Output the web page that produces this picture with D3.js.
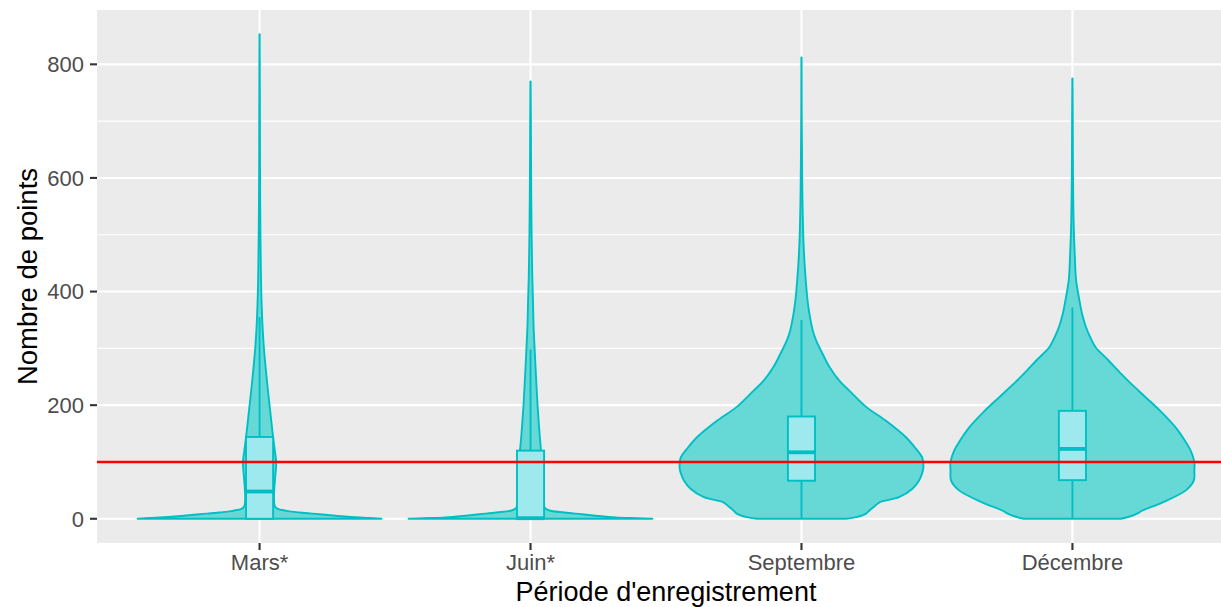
<!DOCTYPE html>
<html>
<head>
<meta charset="utf-8">
<script src="https://cdn.jsdelivr.net/npm/d3@7"></script>
<style>
  html, body { margin: 0; padding: 0; background: #ffffff; }
  svg { display: block; }
  text { font-family: "Liberation Sans", Arial, Helvetica, sans-serif; }
</style>
</head>
<body>
<script>
// ---------------- DATA ----------------
const categories = ["Mars*", "Juin*", "Septembre", "Décembre"];
const yTicks = [0, 200, 400, 600, 800];
const yMinorTicks = [100, 300, 500, 700];
const referenceValue = 100;

// violin densities: [value, relative density (1 = widest)]
const densMars = [[0,1],[1.5,0.9],[4,0.7],[8,0.49],[11,0.33],[14,0.22],[18,0.145],[22,0.125],[35,0.118],[50,0.12],[73,0.128],[90,0.135],[102,0.136],[120,0.125],[149,0.108],[190,0.087],[237,0.063],[270,0.048],[302,0.035],[340,0.024],[384,0.016],[430,0.011],[500,0.007],[600,0.004],[700,0.003],[780,0.002],[853,0.001]];
const densJuin = [[0,1],[1,0.88],[2.3,0.7],[5,0.55],[8,0.42],[11,0.28],[15,0.15],[20,0.115],[35,0.105],[60,0.1],[90,0.095],[120,0.086],[150,0.074],[202,0.057],[250,0.045],[302,0.033],[340,0.025],[384,0.02],[430,0.014],[500,0.009],[600,0.005],[700,0.003],[770,0.001]];
const densSept = [[0,0.365],[3,0.45],[6,0.5],[9,0.53],[15,0.56],[22,0.6],[29,0.64],[38,0.8],[53,0.91],[67,0.963],[80,0.99],[91,1.0],[108,0.99],[123,0.94],[144,0.855],[173,0.69],[197,0.53],[226,0.39],[243,0.31],[267,0.23],[290,0.174],[314,0.12],[332,0.092],[361,0.065],[384,0.05],[420,0.035],[450,0.025],[490,0.016],[540,0.01],[578,0.007],[650,0.004],[720,0.002],[812,0.001]];
const densDec = [[0,0.4],[4,0.47],[9,0.53],[14.6,0.575],[29,0.74],[50,0.93],[67,0.995],[85,1.0],[100,1.0],[120,0.97],[140,0.915],[161,0.846],[190,0.72],[214,0.6],[240,0.47],[255,0.4],[280,0.29],[302,0.19],[320,0.145],[338,0.11],[360,0.08],[385,0.057],[420,0.03],[460,0.02],[520,0.01],[600,0.005],[700,0.003],[775,0.001]];
const densities = [densMars, densJuin, densSept, densDec];

// boxplot statistics
const boxLower = [0, 0, 0, 0];      // lower whisker
const boxQ1 = [0, 0, 67, 68];
const boxMedian = [48, 1, 117, 123];
const boxQ3 = [144, 120, 180, 190];
const boxUpper = [355, 298, 350, 372]; // upper whisker
const dataMax = [853, 770, 812, 775];

// ---------------- LAYOUT ----------------
const W = 1221, H = 607;
const panel = { left: 97, right: 1235, top: 10, bottom: 543 };

const svg = d3.select("body").append("svg").attr("width", W).attr("height", H);

const maxVal = d3.max(dataMax), minVal = 0;
const pad = (maxVal - minVal) * 0.05;
const y = d3.scaleLinear().domain([minVal - pad, maxVal + pad]).range([panel.bottom, panel.top]);
const x = d3.scalePoint().domain(categories).range([panel.left, panel.right]).padding(0.6);
const step = x.step();
const violinHalf = step * 0.45;
const boxHalf = step * 0.05;

svg.append("clipPath").attr("id", "pclip").append("rect")
  .attr("x", panel.left).attr("y", panel.top)
  .attr("width", panel.right - panel.left).attr("height", panel.bottom - panel.top);

const g = svg.append("g").attr("clip-path", "url(#pclip)");

// panel background
g.append("rect").attr("x", panel.left).attr("y", panel.top)
  .attr("width", panel.right - panel.left).attr("height", panel.bottom - panel.top)
  .attr("fill", "#EBEBEB");

// grid
g.selectAll(".ymin").data(yMinorTicks).enter().append("line")
  .attr("x1", panel.left).attr("x2", panel.right)
  .attr("y1", d => y(d)).attr("y2", d => y(d))
  .attr("stroke", "#ffffff").attr("stroke-width", 1.1);
g.selectAll(".ymaj").data(yTicks).enter().append("line")
  .attr("x1", panel.left).attr("x2", panel.right)
  .attr("y1", d => y(d)).attr("y2", d => y(d))
  .attr("stroke", "#ffffff").attr("stroke-width", 2.1);
g.selectAll(".xmaj").data(categories).enter().append("line")
  .attr("x1", d => x(d)).attr("x2", d => x(d))
  .attr("y1", panel.top).attr("y2", panel.bottom)
  .attr("stroke", "#ffffff").attr("stroke-width", 2.1);

const lineCol = "#00BFC4";
const violinFill = "#66D8D5";
const boxFill = "#9DE9EE";

// violins
categories.forEach((c, i) => {
  const cx = x(c);
  const area = d3.area()
    .y(d => y(d[0]))
    .x0(d => cx - d[1] * violinHalf)
    .x1(d => cx + d[1] * violinHalf)
    .curve(d3.curveCatmullRom.alpha(0.5));
  g.append("path").datum(densities[i])
    .attr("d", area)
    .attr("fill", violinFill)
    .attr("stroke", lineCol)
    .attr("stroke-width", 1.9)
    .attr("stroke-linejoin", "round");
});

// boxplots
categories.forEach((c, i) => {
  const cx = x(c);
  g.append("line").attr("x1", cx).attr("x2", cx)
    .attr("y1", y(boxQ3[i])).attr("y2", y(boxUpper[i]))
    .attr("stroke", lineCol).attr("stroke-width", 1.9);
  g.append("line").attr("x1", cx).attr("x2", cx)
    .attr("y1", y(boxQ1[i])).attr("y2", y(boxLower[i]))
    .attr("stroke", lineCol).attr("stroke-width", 1.9);
  g.append("rect")
    .attr("x", cx - boxHalf).attr("width", boxHalf * 2)
    .attr("y", y(boxQ3[i])).attr("height", Math.max(0.5, y(boxQ1[i]) - y(boxQ3[i])))
    .attr("fill", boxFill).attr("stroke", lineCol).attr("stroke-width", 1.9);
  g.append("line").attr("x1", cx - boxHalf).attr("x2", cx + boxHalf)
    .attr("y1", y(boxMedian[i])).attr("y2", y(boxMedian[i]))
    .attr("stroke", lineCol).attr("stroke-width", 3.8);
});

// reference line
g.append("line").attr("x1", panel.left).attr("x2", panel.right)
  .attr("y1", y(referenceValue)).attr("y2", y(referenceValue))
  .attr("stroke", "#FF0000").attr("stroke-width", 2.4);

// ---------------- AXES ----------------
const tickCol = "#333333", labCol = "#4D4D4D";
const yAxis = svg.append("g");
yAxis.selectAll("line").data(yTicks).enter().append("line")
  .attr("x1", panel.left - 7).attr("x2", panel.left)
  .attr("y1", d => y(d)).attr("y2", d => y(d))
  .attr("stroke", tickCol).attr("stroke-width", 2.1);
yAxis.selectAll("text").data(yTicks).enter().append("text")
  .attr("x", panel.left - 13).attr("y", d => y(d))
  .attr("dy", "0.36em")
  .attr("text-anchor", "end").attr("fill", labCol).attr("font-size", 22)
  .text(d => d);

const xAxis = svg.append("g");
xAxis.selectAll("line").data(categories).enter().append("line")
  .attr("x1", d => x(d)).attr("x2", d => x(d))
  .attr("y1", panel.bottom).attr("y2", panel.bottom + 7)
  .attr("stroke", tickCol).attr("stroke-width", 2.1);
xAxis.selectAll("text").data(categories).enter().append("text")
  .attr("x", d => x(d)).attr("y", 570)
  .attr("text-anchor", "middle").attr("fill", labCol).attr("font-size", 22)
  .text(d => d);

svg.append("text")
  .attr("x", (panel.left + panel.right) / 2).attr("y", 601)
  .attr("text-anchor", "middle").attr("fill", "#000000").attr("font-size", 27)
  .text("Période d'enregistrement");

svg.append("text")
  .attr("transform", `translate(36.5, ${(panel.top + panel.bottom) / 2}) rotate(-90)`)
  .attr("text-anchor", "middle").attr("fill", "#000000").attr("font-size", 27.5)
  .text("Nombre de points");
</script>
</body>
</html>
